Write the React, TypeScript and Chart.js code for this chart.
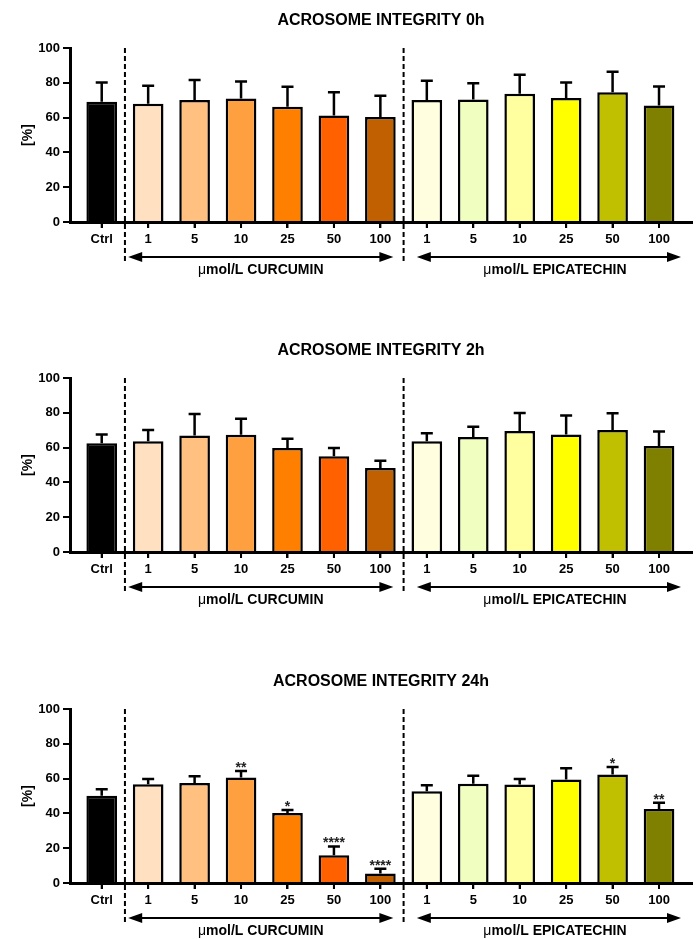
import React, { useEffect, useRef } from "react";
import { Chart, registerables } from "chart.js";

Chart.register(...registerables);

// ---- data ----
const categories = ["Ctrl", "1", "5", "10", "25", "50", "100", "1", "5", "10", "25", "50", "100"];
const groupLabels = ["CURCUMIN", "EPICATECHIN"];
const yTicks = [0, 20, 40, 60, 80, 100];

const titles = ["ACROSOME INTEGRITY 0h", "ACROSOME INTEGRITY 2h", "ACROSOME INTEGRITY 24h"];

const mean0h = [69.1, 67.9, 70.1, 71.0, 66.2, 61.2, 60.3, 70.1, 70.4, 73.7, 71.2, 74.5, 67.0];
const sd0h = [11.1, 10.4, 11.5, 9.8, 11.5, 13.3, 12.3, 11.1, 9.4, 10.9, 9.0, 11.9, 10.9];
const sig0h = ["", "", "", "", "", "", "", "", "", "", "", "", ""];

const mean2h = [62.5, 63.6, 67.0, 67.4, 59.8, 55.0, 48.3, 63.6, 66.1, 69.5, 67.6, 70.1, 60.9];
const sd2h = [5.1, 6.5, 12.3, 9.2, 5.3, 4.8, 4.2, 4.6, 5.9, 10.4, 10.9, 9.6, 8.3];
const sig2h = ["", "", "", "", "", "", "", "", "", "", "", "", ""];

const mean24h = [50.1, 56.8, 57.4, 60.6, 40.3, 15.9, 5.4, 52.8, 57.0, 56.6, 59.5, 62.3, 42.6];
const sd24h = [3.8, 3.0, 4.0, 3.8, 1.6, 5.1, 2.8, 3.4, 4.6, 3.2, 6.5, 4.4, 3.5];
const sig24h = ["", "", "", "**", "*", "****", "****", "", "", "", "", "*", "**"];

const barColors = [
  "#000000",
  "#FFE0C0", "#FFC080", "#FFA040", "#FF8000", "#FF6000", "#C06000",
  "#FFFFE0", "#F0FFC0", "#FFFFA0", "#FFFF00", "#C0C000", "#808000",
];

const FONT = "'Liberation Sans', Arial, Helvetica, sans-serif";
const W = 699;
const H = 300;
const PANEL_TOPS = [0, 330, 661];

function makePlugin(title: string, means: number[], sds: number[], sigs: string[]) {
  return {
    id: "decor",
    afterDraw(chart: any) {
      const { ctx, chartArea } = chart;
      const x = chart.scales.x;
      const y = chart.scales.y;
      ctx.save();
      ctx.strokeStyle = "#000";
      // x tick marks
      ctx.lineWidth = 2;
      categories.forEach((_, i) => {
        const px = x.getPixelForValue(i);
        ctx.beginPath();
        ctx.moveTo(px, chartArea.bottom);
        ctx.lineTo(px, chartArea.bottom + 6);
        ctx.stroke();
      });
      // error bars
      ctx.lineWidth = 2.5;
      means.forEach((m, i) => {
        const px = x.getPixelForValue(i);
        const yb = y.getPixelForValue(m);
        const yt = y.getPixelForValue(m + sds[i]);
        ctx.beginPath();
        ctx.moveTo(px, yb);
        ctx.lineTo(px, yt);
        ctx.moveTo(px - 6, yt);
        ctx.lineTo(px + 6, yt);
        ctx.stroke();
        if (sigs[i]) {
          ctx.fillStyle = "#222";
          ctx.font = `bold 14px ${FONT}`;
          ctx.textAlign = "center";
          ctx.textBaseline = "alphabetic";
          ctx.fillText(sigs[i], px, yt + 1);
        }
      });
      // dashed separators
      ctx.setLineDash([5, 3]);
      ctx.lineWidth = 2;
      [0.5, 6.5].forEach((v) => {
        const px = x.getPixelForValue(v);
        ctx.beginPath();
        ctx.moveTo(px, chartArea.top);
        ctx.lineTo(px, chartArea.bottom + 41);
        ctx.stroke();
      });
      ctx.setLineDash([]);
      // arrows
      const ay = chartArea.bottom + 35;
      const arrows = [
        [x.getPixelForValue(1) - 20, x.getPixelForValue(6) + 13],
        [x.getPixelForValue(7) - 10, x.getPixelForValue(12) + 22],
      ];
      arrows.forEach(([a, b]) => {
        ctx.beginPath();
        ctx.moveTo(a + 10, ay);
        ctx.lineTo(b - 10, ay);
        ctx.lineWidth = 2;
        ctx.stroke();
        ctx.fillStyle = "#000";
        ctx.beginPath();
        ctx.moveTo(a, ay);
        ctx.lineTo(a + 14, ay - 5);
        ctx.lineTo(a + 14, ay + 5);
        ctx.closePath();
        ctx.fill();
        ctx.beginPath();
        ctx.moveTo(b, ay);
        ctx.lineTo(b - 14, ay - 5);
        ctx.lineTo(b - 14, ay + 5);
        ctx.closePath();
        ctx.fill();
      });
      // group labels
      const centers = [
        (arrows[0][0] + arrows[0][1]) / 2,
        (arrows[1][0] + arrows[1][1]) / 2 + 6,
      ];
      ctx.textBaseline = "middle";
      ctx.textAlign = "left";
      groupLabels.forEach((g, k) => {
        const mu = "\u03bc";
        const rest = "mol/L " + g;
        ctx.font = `14px ${FONT}`;
        const w1 = ctx.measureText(mu).width;
        ctx.font = `bold 14px ${FONT}`;
        const w2 = ctx.measureText(rest).width;
        const start = centers[k] - (w1 + w2) / 2;
        ctx.fillStyle = "#000";
        ctx.font = `14px ${FONT}`;
        ctx.fillText(mu, start, chartArea.bottom + 48);
        ctx.font = `bold 14px ${FONT}`;
        ctx.fillText(rest, start + w1, chartArea.bottom + 48);
      });
      // title
      ctx.font = `bold 16px ${FONT}`;
      ctx.textAlign = "center";
      ctx.fillText(title, (chartArea.left + chartArea.right) / 2, 21);
      // y title
      ctx.translate(28, (chartArea.top + chartArea.bottom) / 2);
      ctx.rotate(-Math.PI / 2);
      ctx.font = `bold 14px ${FONT}`;
      ctx.fillText("[%]", 0, 0);
      ctx.restore();
    },
  };
}

function Panel({ title, means, sds, sigs, top }: any) {
  const ref = useRef<HTMLCanvasElement>(null);
  useEffect(() => {
    if (!ref.current) return;
    const chart = new Chart(ref.current, {
      type: "bar",
      data: {
        datasets: [
          {
            data: means.map((m: number, i: number) => ({ x: i, y: m })),
            backgroundColor: barColors,
            borderColor: "#000",
            borderWidth: 2.5,
            barPercentage: 0.66,
            categoryPercentage: 1,
          },
        ],
      },
      options: {
        responsive: false,
        maintainAspectRatio: false,
        animation: false,
        layout: { padding: { top: 48, right: 7, left: 0, bottom: 0 } },
        plugins: { legend: { display: false }, tooltip: { enabled: false }, title: { display: false } },
        scales: {
          x: {
            type: "linear",
            min: -0.683,
            max: 12.71,
            offset: false,
            grid: { offset: false, drawOnChartArea: false, drawTicks: true, tickLength: 6, color: "#000", lineWidth: 2 },
            border: { display: true, color: "#000", width: 3 },
            ticks: {
              color: "#000",
              font: { family: FONT, size: 13, weight: "bold" },
              padding: 4,
              autoSkip: false,
              maxRotation: 0,
              callback: (v: any) => categories[v] ?? "",
            },
            afterBuildTicks: (scale: any) => {
              scale.ticks = categories.map((_, i) => ({ value: i }));
            },
            afterFit: (scale: any) => {
              scale.height = H - 222;
            },
          },
          y: {
            min: 0,
            max: 100,
            grid: { drawOnChartArea: false, drawTicks: true, tickLength: 7, color: "#000", lineWidth: 2 },
            border: { display: true, color: "#000", width: 3 },
            ticks: {
              color: "#000",
              font: { family: FONT, size: 13, weight: "bold" },
              padding: 3,
              stepSize: 20,
            },
            afterBuildTicks: (scale: any) => {
              scale.ticks = yTicks.map((v) => ({ value: v }));
            },
            afterFit: (scale: any) => {
              scale.width = 70;
            },
          },
        },
      } as any,
      plugins: [makePlugin(title, means, sds, sigs)],
    });
    return () => chart.destroy();
  }, []);
  return (
    <canvas
      ref={ref}
      width={W}
      height={H}
      style={{ position: "absolute", left: 0, top, width: W, height: H, display: "block" }}
    />
  );
}

export default function App() {
  return (
    <div style={{ position: "absolute", left: 0, top: 0, width: W, height: 939, background: "#fff" }}>
      <Panel title={titles[0]} means={mean0h} sds={sd0h} sigs={sig0h} top={PANEL_TOPS[0]} />
      <Panel title={titles[1]} means={mean2h} sds={sd2h} sigs={sig2h} top={PANEL_TOPS[1]} />
      <Panel title={titles[2]} means={mean24h} sds={sd24h} sigs={sig24h} top={PANEL_TOPS[2]} />
    </div>
  );
}
